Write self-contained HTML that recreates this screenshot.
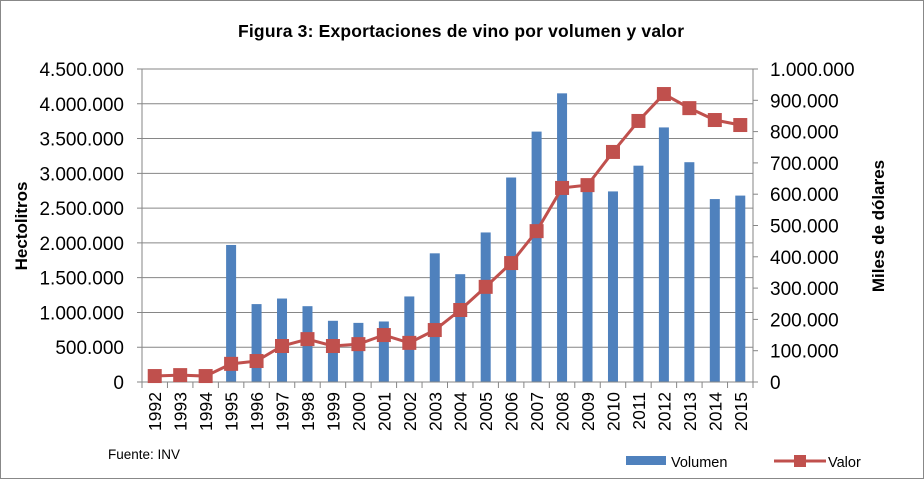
<!DOCTYPE html>
<html><head><meta charset="utf-8"><style>
body{margin:0;background:#fff;}
text{font-family:"Liberation Sans","DejaVu Sans",sans-serif;}
</style></head><body>
<svg id="c" width="924" height="479" xmlns="http://www.w3.org/2000/svg">
<rect x="0.5" y="0.5" width="923" height="478" fill="#fff" stroke="#888"/>
<text x="461" y="37" text-anchor="middle" font-size="17.5" font-weight="bold" textLength="446">Figura 3: Exportaciones de vino por volumen y valor</text>
<text transform="translate(27,226) rotate(-90)" text-anchor="middle" font-size="17" font-weight="bold">Hectolitros</text>
<text transform="translate(884,226) rotate(-90)" text-anchor="middle" font-size="17" font-weight="bold">Miles de dólares</text>
<text x="108" y="459" font-size="13.5">Fuente:  INV</text>
<g id="g"></g>
<rect x="626" y="456" width="40" height="9" fill="#4f81bd"/>
<text x="671" y="467" font-size="14.5">Volumen</text>
<line x1="774" y1="461" x2="826" y2="461" stroke="#c0504d" stroke-width="3"/>
<rect x="794" y="455" width="12" height="12" fill="#c0504d"/>
<text x="828" y="467" font-size="14.5">Valor</text>
</svg>
<script>
const years=[1992,1993,1994,1995,1996,1997,1998,1999,2000,2001,2002,2003,2004,2005,2006,2007,2008,2009,2010,2011,2012,2013,2014,2015];
const volumen=[0,0,0,1970000,1120000,1200000,1090000,880000,850000,870000,1230000,1850000,1550000,2150000,2940000,3600000,4150000,2900000,2740000,3110000,3660000,3160000,2630000,2680000];
const valor=[19000,22000,19000,58000,67000,115000,137000,115000,121000,150000,125000,166000,230000,304000,380000,482000,620000,629000,735000,834000,920000,875000,837000,821000];
const leftTicks=[0,500000,1000000,1500000,2000000,2500000,3000000,3500000,4000000,4500000];
const rightTicks=[0,100000,200000,300000,400000,500000,600000,700000,800000,900000,1000000];
const X0=142,X1=753,Y0=382,Y1=69;
const slot=(X1-X0)/years.length;
const xc=i=>X0+slot*(i+0.5);
const yl=v=>Y0-(v/4500000)*(Y0-Y1);
const yr=v=>Y0-(v/1000000)*(Y0-Y1);
const fmt=v=>v.toLocaleString('de-DE');
const g=document.getElementById('g');
const NS='http://www.w3.org/2000/svg';
function mk(t,a){const e=document.createElementNS(NS,t);for(const k in a)e.setAttribute(k,a[k]);g.appendChild(e);return e;}
leftTicks.forEach(v=>{
 const l=mk('line',{x1:X0-5,x2:X1,y1:yl(v),y2:yl(v),stroke:'#868686','stroke-width':1});
 
 
 const t=mk('text',{x:124,y:yl(v)+7,'text-anchor':'end','font-size':19});
 t.textContent=fmt(v);
 
 
});
rightTicks.forEach(v=>{
 const l=mk('line',{x1:X1,x2:X1+5,y1:yr(v),y2:yr(v),stroke:'#868686'});
 
 
 const t=mk('text',{x:770,y:yr(v)+7,'font-size':19});
 t.textContent=fmt(v);
 
 
});
let a=mk('line',{x1:X0,x2:X0,y1:Y1,y2:Y0,stroke:'#868686'});


a=mk('line',{x1:X1,x2:X1,y1:Y1,y2:Y0,stroke:'#868686'});


years.forEach((y,i)=>{
 const tk=mk('line',{x1:X0+slot*i,x2:X0+slot*i,y1:Y0,y2:Y0+6,stroke:'#868686'});
 
 
 const t=mk('text',{transform:`translate(${xc(i)+6.5},${Y0+10}) rotate(-90)`,'text-anchor':'end','font-size':17.5});
 t.textContent=y;
 
 
 if(volumen[i]>0){
  const b=mk('rect',{x:xc(i)-5,y:yl(volumen[i]),width:10,height:Y0-yl(volumen[i]),fill:'#4f81bd'});
  
  
 }
});
const tk=mk('line',{x1:X1,x2:X1,y1:Y0,y2:Y0+6,stroke:'#868686'});


const ax=mk('line',{x1:X0,x2:X1,y1:Y0,y2:Y0,stroke:'#868686'});


const pl=mk('polyline',{points:valor.map((v,i)=>xc(i)+','+yr(v)).join(' '),fill:'none',stroke:'#c0504d','stroke-width':3});


valor.forEach((v,i)=>{
 const m=mk('rect',{x:xc(i)-7,y:yr(v)-7,width:14,height:14,fill:'#c0504d'});
 
 
});
</script>
</body></html>
